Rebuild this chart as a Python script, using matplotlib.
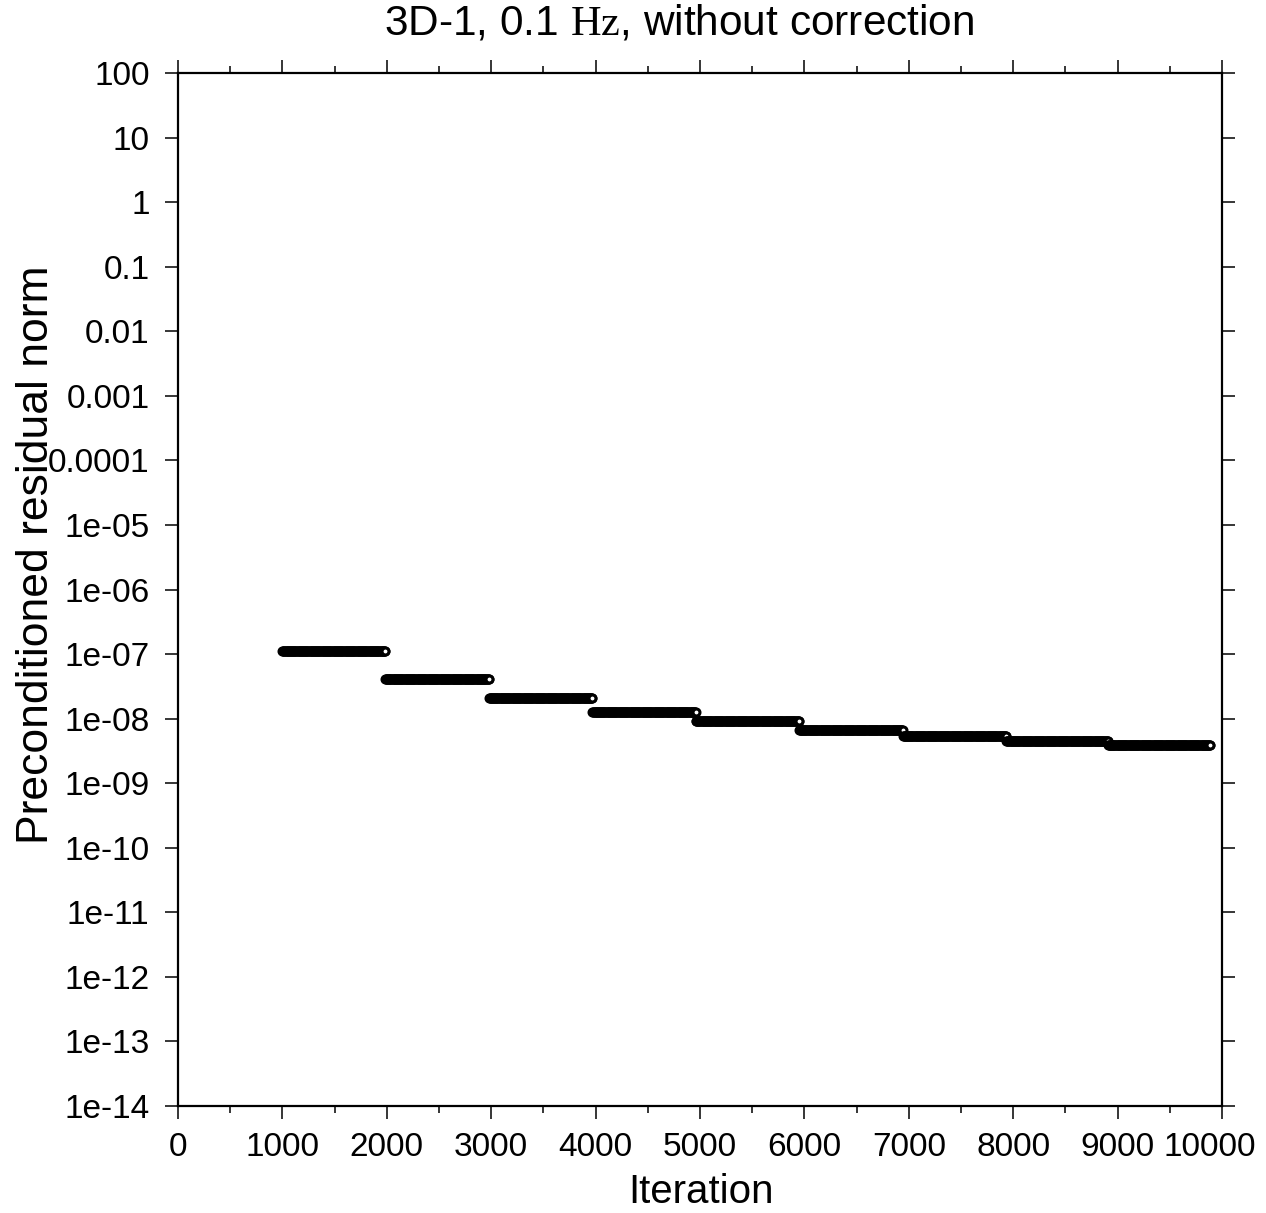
import numpy as np
import matplotlib
matplotlib.use("Agg")
import matplotlib.pyplot as plt
import matplotlib.transforms as mtrans
from matplotlib.ticker import FixedLocator, MultipleLocator

plt.rcParams['font.family'] = ['Liberation Sans', 'DejaVu Sans']
plt.rcParams['mathtext.fontset'] = 'custom'
plt.rcParams['mathtext.rm'] = 'Liberation Serif'

# segments of the residual history: start / end iteration and level
seg_start = [1000, 1985, 2980, 3970, 4960, 5950, 6945, 7935, 8910]
seg_end = [1985, 2980, 3970, 4960, 5950, 6945, 7935, 8910, 9890]
seg_level = [1.12e-7, 4.1e-8, 2.07e-8, 1.27e-8, 9.1e-9, 6.6e-9, 5.35e-9, 4.45e-9, 3.85e-9]

x_ticks = [0, 1000, 2000, 3000, 4000, 5000, 6000, 7000, 8000, 9000, 10000]
y_ticks = [1e2, 1e1, 1, 1e-1, 1e-2, 1e-3, 1e-4, 1e-5, 1e-6, 1e-7, 1e-8,
           1e-9, 1e-10, 1e-11, 1e-12, 1e-13, 1e-14]
y_labels = ['100', '10', '1', '0.1', '0.01', '0.001', '0.0001', '1e-05', '1e-06',
            '1e-07', '1e-08', '1e-09', '1e-10', '1e-11', '1e-12', '1e-13', '1e-14']

fig = plt.figure(figsize=(12.66, 12.13), dpi=100)
ax = fig.add_axes([0.1406, 0.0882, 0.8246, 0.8516])

for s, e, lv in zip(seg_start, seg_end, seg_level):
    it = np.arange(s, e + 1, 5)
    ax.plot(it, np.full(len(it), lv), linestyle='none', marker='o', markersize=5,
            markerfacecolor='white', markeredgecolor='black', markeredgewidth=2.2,
            clip_on=False)

ax.set_yscale('log')
ax.set_xlim(0, 10000)
ax.set_ylim(1e-14, 100)
ax.set_yticks(y_ticks)
ax.set_yticklabels(y_labels)
ax.yaxis.set_minor_locator(FixedLocator([]))
ax.set_xticks(x_ticks)
ax.set_xticklabels([str(v) for v in x_ticks])
ax.xaxis.set_minor_locator(MultipleLocator(500))

for sp in ax.spines.values():
    sp.set_linewidth(1.6)
ax.tick_params(which='major', direction='out', length=9.5, width=1.1, labelsize=24,
               top=True, right=True)
ax.tick_params(axis='y', which='major', pad=11)
ax.tick_params(axis='x', which='major', pad=9)
ax.tick_params(which='minor', direction='out', length=5, width=1.1, top=True)

# last x label sits a bit left of its tick, as in the original
last = ax.xaxis.get_major_ticks()[-1].label1
last.set_transform(last.get_transform() + mtrans.ScaledTranslation(-0.12, 0, fig.dpi_scale_trans))

fig.text(701 / 1266, 1 - 1192 / 1213, 'Iteration', fontsize=29, ha='center', va='center')
fig.text(37 / 1266, 1 - 555 / 1213, 'Preconditioned residual norm', fontsize=32,
         rotation=90, ha='center', va='center')
fig.text(679 / 1266, 1 - 24 / 1213, r'3D-1, 0.1 $\mathrm{Hz}$, without correction',
         fontsize=30.5, ha='center', va='center')

fig.savefig('out.png', dpi=100)
